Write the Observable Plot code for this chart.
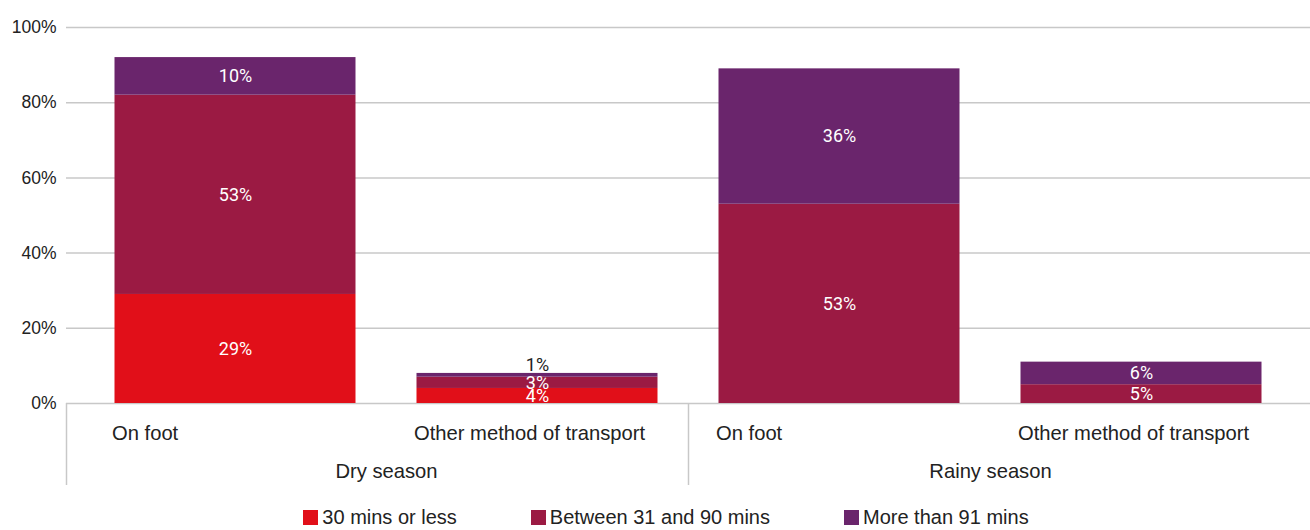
<!DOCTYPE html>
<html>
<head>
<meta charset="utf-8">
<script src="https://cdn.jsdelivr.net/npm/d3@7"></script>
<script src="https://cdn.jsdelivr.net/npm/@observablehq/plot@0.6"></script>
<style>
  html, body { margin: 0; padding: 0; background: #fff; }
  body { width: 1310px; height: 530px; overflow: hidden; font-family: "Liberation Sans", Arial, sans-serif; }
  #legend { display: flex; justify-content: center; align-items: center; height: 25px; margin-top: 3px; padding-left: 22px; font-size: 20px; color: #222; }
  .item { display: flex; align-items: center; margin: 0 37px; }
  .sw { width: 15px; height: 15px; margin-right: 4px; }
</style>
</head>
<body>
<div id="chart"></div>
<div id="legend"></div>
<script>
const seasons = ["Dry season", "Rainy season"];
const methods = ["On foot", "Other method of transport"];
const bands = ["30 mins or less", "Between 31 and 90 mins", "More than 91 mins"];
const colors = ["#E10F19", "#9B1A43", "#6A256C"];
const dryOnFoot = [29, 53, 10];
const dryOther = [4, 3, 1];
const rainyOnFoot = [0, 53, 36];
const rainyOther = [0, 5, 6];
const yTicks = [0, 20, 40, 60, 80, 100];

const series = [[dryOnFoot, dryOther], [rainyOnFoot, rainyOther]];
const key = (s, m) => s + "|" + m;
const keys = [];
const rows = [];
seasons.forEach((s, si) => methods.forEach((m, mi) => {
  keys.push(key(s, m));
  bands.forEach((b, bi) => rows.push({key: key(s, m), season: s, method: m, band: b, value: series[si][mi][bi]}));
}));

const W = 1310, H = 502, mL = 66, mR = 0, mT = 27, mB = 99;
const pInner = 0.202, pOuter = 0.1606;
const plotW = W - mL - mR;
const step = plotW / (keys.length - pInner + 2 * pOuter);
const bw = step * (1 - pInner);
const outer = step * pOuter;
const frameH = H - mT - mB;
const gray = "#c8c8c8";

const chart = Plot.plot({
  width: W, height: H,
  marginLeft: mL, marginRight: mR, marginTop: mT, marginBottom: mB,
  style: {fontFamily: "'Liberation Sans', Arial, sans-serif", color: "#222", background: "#fff"},
  x: {domain: keys, paddingInner: pInner, paddingOuter: pOuter, round: false, axis: null, label: null},
  y: {domain: [0, 100], axis: null, label: null},
  color: {domain: bands, range: colors},
  marks: [
    Plot.gridY(yTicks, {stroke: gray, strokeOpacity: 1, strokeWidth: 1.5}),
    Plot.axisY(yTicks, {tickSize: 0, tickPadding: 10, tickFormat: d => d + "%", fontSize: 17.5, fill: "#222", label: null}),
    Plot.barY(rows, {x: "key", y: "value", fill: "band"}),
    Plot.text(rows, Plot.stackY({x: "key", y: "value", text: d => d.value >= 2 ? d.value + "%" : "", fill: "white", fontSize: 18, fontFamily: "Roboto, sans-serif"})),
    Plot.text(rows, Plot.stackY2({x: "key", y: "value", text: d => d.value > 0 && d.value < 2 ? d.value + "%" : "", fill: "#222", fontSize: 18, dy: -8, fontFamily: "Roboto, sans-serif"})),
    Plot.axisX(keys, {tickSize: 0, tickPadding: 0, tickFormat: d => d.split("|")[1], textAnchor: "start", dx: -bw / 2 - 3, dy: 30, lineAnchor: "middle", fontSize: 20.2, fill: "#222", label: null}),
    Plot.text(seasons, {x: d => key(d, methods[1]), dx: -step / 2, frameAnchor: "bottom", dy: 68, lineAnchor: "middle", text: d => d, fontSize: 20.2, fill: "#222"}),
    Plot.ruleX([seasons[0]], {x: d => key(d, methods[0]), dx: -bw / 2 - outer, insetTop: frameH, insetBottom: -82, stroke: gray, strokeWidth: 1.5}),
    Plot.ruleX(seasons.slice(1), {x: d => key(d, methods[0]), dx: -step / 2, insetTop: frameH, insetBottom: -82, stroke: gray, strokeWidth: 1.5})
  ]
});
document.getElementById("chart").appendChild(chart);

const legend = document.getElementById("legend");
bands.forEach((b, i) => {
  const item = document.createElement("div");
  item.className = "item";
  const sw = document.createElement("span");
  sw.className = "sw";
  sw.style.background = colors[i];
  const t = document.createElement("span");
  t.textContent = b;
  item.appendChild(sw);
  item.appendChild(t);
  legend.appendChild(item);
});
</script>
</body>
</html>
